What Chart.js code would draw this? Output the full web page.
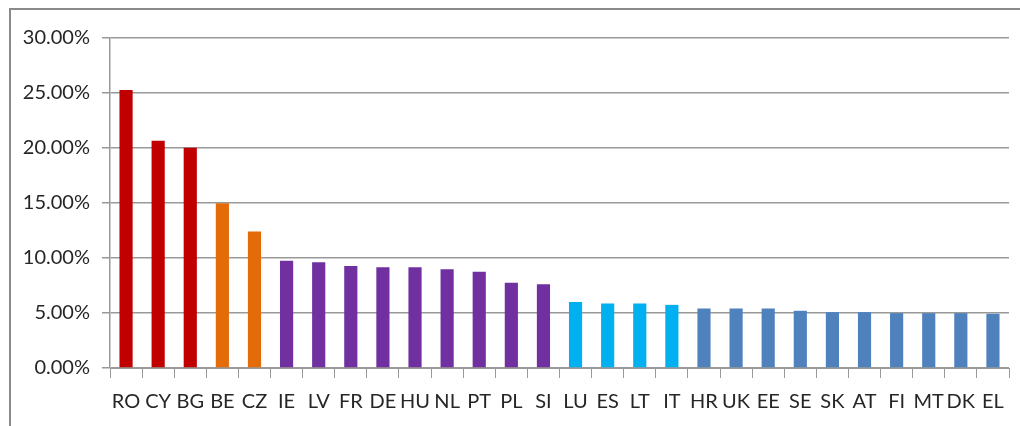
<!DOCTYPE html>
<html>
<head>
<meta charset="utf-8">
<script src="https://cdn.jsdelivr.net/npm/chart.js@4"></script>
<style>
  html, body { margin: 0; padding: 0; background: #fff; }
  #wrap { position: relative; width: 1020px; height: 426px; overflow: hidden; }
  #frame { position: absolute; left: 9px; top: 8px; width: 1100px; height: 500px;
           border-left: 2px solid #8a8a8a; border-top: 2px solid #8a8a8a; }
  canvas { position: absolute; left: 0; top: 0; }
</style>
</head>
<body>
<div id="wrap">
  <div id="frame"></div>
  <canvas id="chart" width="1020" height="426"></canvas>
</div>
<script>
// countries, sorted by share
let countries = ["RO","CY","BG","BE","CZ","IE","LV","FR","DE","HU","NL","PT","PL","SI",
                 "LU","ES","LT","IT","HR","UK","EE","SE","SK","AT","FI","MT","DK","EL"];
let shares = [25.28, 20.65, 20.03, 14.97, 12.4, 9.74, 9.62, 9.28, 9.16, 9.16, 8.98, 8.74, 7.74, 7.62,
              5.99, 5.86, 5.86, 5.74, 5.41, 5.41, 5.41, 5.2, 5.08, 5.08, 4.99, 4.99, 4.99, 4.93];
let yTicks = [0, 5, 10, 15, 20, 25, 30];

// bar colours by group
let red = "#C00000", orange = "#E36C09", purple = "#7030A0", cyan = "#00B0F0", steel = "#4F81BD";
let barColors = [red, red, red, orange, orange,
                 purple, purple, purple, purple, purple, purple, purple, purple, purple,
                 cyan, cyan, cyan, cyan,
                 steel, steel, steel, steel, steel, steel, steel, steel, steel, steel];

let font = { family: "Lato, 'Open Sans', sans-serif", size: 20 };

let ctx = document.getElementById("chart");
new Chart(ctx, {
  type: "bar",
  data: {
    labels: countries,
    datasets: [{
      data: shares,
      backgroundColor: barColors,
      barPercentage: 0.41,
      categoryPercentage: 1.0
    }]
  },
  options: {
    responsive: false,
    animation: false,
    layout: { padding: { left: 0, right: 11, top: 38, bottom: 0 } },
    plugins: { legend: { display: false }, tooltip: { enabled: false } },
    scales: {
      x: {
        grid: { offset: true, drawOnChartArea: false, drawTicks: true, tickLength: 10, color: "#999" },
        border: { display: true, color: "#999" },
        ticks: { color: "#262626", font: font, padding: 12, maxRotation: 0, autoSkip: false },
        afterFit: function (s) { s.height = 58; }
      },
      y: {
        min: 0, max: 30,
        afterBuildTicks: function (s) { s.ticks = yTicks.map(v => ({ value: v })); },
        grid: { color: "#999", lineWidth: 1.5, tickLength: 8 },
        border: { display: true, color: "#999", width: 1.5 },
        ticks: { color: "#262626", font: font, padding: 12,
                 callback: function (v) { return v.toFixed(2) + "%"; } },
        afterFit: function (s) { s.width = 110; }
      }
    }
  }
});
</script>
</body>
</html>
